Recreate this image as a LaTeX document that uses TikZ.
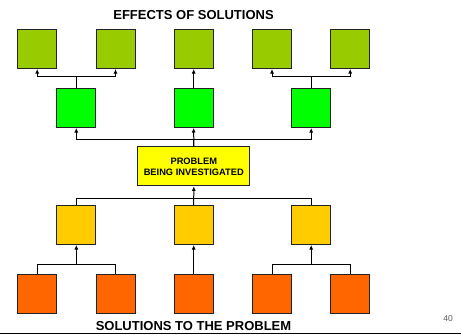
\documentclass[tikz,border=0pt]{standalone}
\usepackage{fontspec}
\setmainfont{Liberation Sans}
\usetikzlibrary{arrows.meta,calc}
\definecolor{effectgreen}{HTML}{99CC00}
\definecolor{brightgreen}{HTML}{00FF00}
\definecolor{problemyellow}{HTML}{FFFF00}
\definecolor{solyellow}{HTML}{FFCC00}
\definecolor{solorange}{HTML}{FF6600}
\definecolor{edgegray}{HTML}{222222}
\tikzset{
  box/.style={draw=edgegray, line width=1pt, minimum width=39pt, minimum height=39pt, inner sep=0pt},
  effect/.style={box, fill=effectgreen},
  midgreen/.style={box, fill=brightgreen},
  cause/.style={box, fill=solyellow},
  root/.style={box, fill=solorange},
  problembox/.style={draw=edgegray, line width=1pt, fill=problemyellow, minimum width=112pt, minimum height=39pt, inner sep=0pt, align=center, font=\bfseries\fontsize{9.3}{11}\selectfont},
  link/.style={line width=1pt, draw=black},
  arr/.style={link, -{Latex[length=4.5pt,width=4pt]}},
  heading/.style={font=\bfseries\fontsize{13}{15}\selectfont},
  pagenum/.style={text=gray!70!black, font=\fontsize{8.5}{10}\selectfont}
}
\begin{document}
\begin{tikzpicture}[x=1pt,y=-1pt]
\useasboundingbox (0,0) rectangle (461,335);

% headings
\node[heading] (top) at (193.5,14.7) {EFFECTS OF SOLUTIONS};
\node[heading] (bottom) at (193.5,326.5) {SOLUTIONS TO THE PROBLEM};
\node[pagenum] (pg) at (448,318.5) {40};
\node[pagenum, anchor=east] (pgl) at (2.5,317) {0};
\coordinate (rl) at (0,333.5);
\coordinate (rr) at (461,333.5);
\draw[line width=1pt] (rl) -- (rr);

% effects of solutions
\node[effect] (e1) at (37.2,49) {};
\node[effect] (e2) at (115.5,49) {};
\node[effect] (e3) at (193.7,49) {};
\node[effect] (e4) at (272,49) {};
\node[effect] (e5) at (350.2,49) {};

% intermediate effects
\node[midgreen] (m1) at (76.3,108) {};
\node[midgreen] (m2) at (193.7,108) {};
\node[midgreen] (m3) at (311.2,108) {};

% problem
\node[problembox] (p) at (193.8,166.3) {PROBLEM\\BEING INVESTIGATED};

% causes
\node[cause] (s1) at (76.3,225) {};
\node[cause] (s2) at (193.7,225) {};
\node[cause] (s3) at (311.2,225) {};

% solutions
\node[root] (o1) at (37.2,293.7) {};
\node[root] (o2) at (115.5,293.7) {};
\node[root] (o3) at (193.7,293.7) {};
\node[root] (o4) at (272,293.7) {};
\node[root] (o5) at (350.2,293.7) {};

% middle row to effects
\coordinate (j1) at (m1.north |- 0,76);
\coordinate (j3) at (m3.north |- 0,76);
\draw[link] (m1.north) -- (j1);
\draw[arr] (j1) -| (e1.south);
\draw[arr] (j1) -| (e2.south);
\draw[arr] (m2.north) -- (e3.south);
\draw[link] (m3.north) -- (j3);
\draw[arr] (j3) -| (e4.south);
\draw[arr] (j3) -| (e5.south);

% problem to middle row
\coordinate (jp) at (p.north |- 0,139.3);
\draw[link] (p.north) -- (jp);
\draw[arr] (jp) -| (m1.south);
\draw[arr] (jp) -| (m3.south);
\draw[arr] (p.north) -- (m2.south);

% causes to problem
\coordinate (ja) at (s1.north |- 0,198.3);
\coordinate (jb) at (s3.north |- 0,198.3);
\draw[link] (s1.north) -- (ja) -- (jb) -- (s3.north);
\draw[arr] (s2.north) -- (p.south);

% solutions to causes
\coordinate (k1) at (s1.south |- 0,264);
\coordinate (k3) at (s3.south |- 0,264);
\draw[link] (o1.north) |- (k1);
\draw[link] (o2.north) |- (k1);
\draw[arr] (k1) -- (s1.south);
\draw[arr] (o3.north) -- (s2.south);
\draw[link] (o4.north) |- (k3);
\draw[link] (o5.north) |- (k3);
\draw[arr] (k3) -- (s3.south);
\end{tikzpicture}
\end{document}
